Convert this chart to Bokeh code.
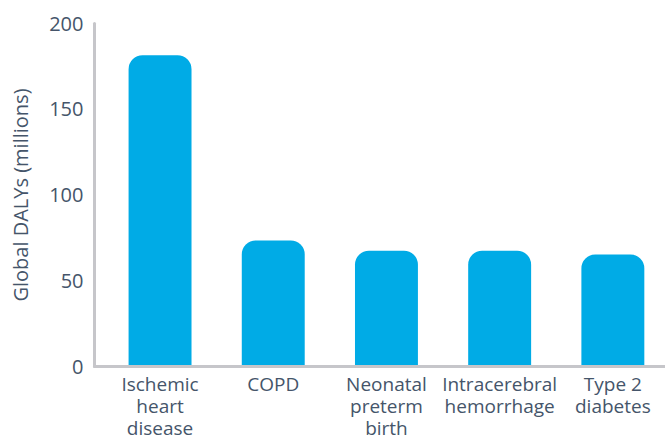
from bokeh.plotting import figure
from bokeh.models import Range1d, FixedTicker, ColumnDataSource
from bokeh.embed import file_html
from bokeh.resources import INLINE

categories = ["Ischemic\nheart\ndisease", "COPD", "Neonatal\npreterm\nbirth",
              "Intracerebral\nhemorrhage", "Type 2\ndiabetes"]
dalys = [181.5, 73.5, 67.5, 67.5, 65.3]
y_ticks = [0, 50, 100, 150, 200]

xs = list(range(len(categories)))
src = ColumnDataSource(dict(x=xs, top=dalys))

p = figure(width=665, height=443, output_backend="svg", toolbar_location=None,
           x_range=Range1d(-0.579, 4.465), y_range=Range1d(0, 200),
           min_border_left=94, min_border_right=0, min_border_top=23, min_border_bottom=75)
p.outline_line_color = None
p.background_fill_color = "white"
p.border_fill_color = "white"
p.xgrid.visible = False
p.ygrid.visible = False

p.vbar(x="x", top="top", bottom=0, width=0.556, source=src,
       fill_color="#00abe6", line_color=None, border_radius=(14, 14, 0, 0))

text_color = "#45556a"
axis_color = "#c6c6ca"
font = "Open Sans"

xa = p.xaxis[0]
xa.ticker = FixedTicker(ticks=xs)
xa.major_label_overrides = {i: c for i, c in enumerate(categories)}
ya = p.yaxis[0]
ya.ticker = FixedTicker(ticks=y_ticks)
ya.axis_label = "Global DALYs (millions)"

for ax in (xa, ya):
    ax.axis_line_color = axis_color
    ax.axis_line_width = 3
    ax.axis_line_cap = "round"
    ax.major_tick_line_color = None
    ax.minor_tick_line_color = None
    ax.major_tick_out = 0
    ax.major_tick_in = 0
    ax.minor_tick_out = 0
    ax.major_label_text_color = text_color
    ax.major_label_text_font = font
    ax.axis_label_text_color = text_color
    ax.axis_label_text_font = font
    ax.axis_label_text_font_style = "normal"

xa.major_label_text_font_size = "19px"
xa.major_label_text_line_height = 0.85
xa.major_label_standoff = 4
ya.major_label_text_font_size = "20px"
ya.major_label_standoff = 11
ya.axis_label_text_font_size = "20px"
ya.axis_label_standoff = 12

open("out.html", "w").write(file_html(p, INLINE))
